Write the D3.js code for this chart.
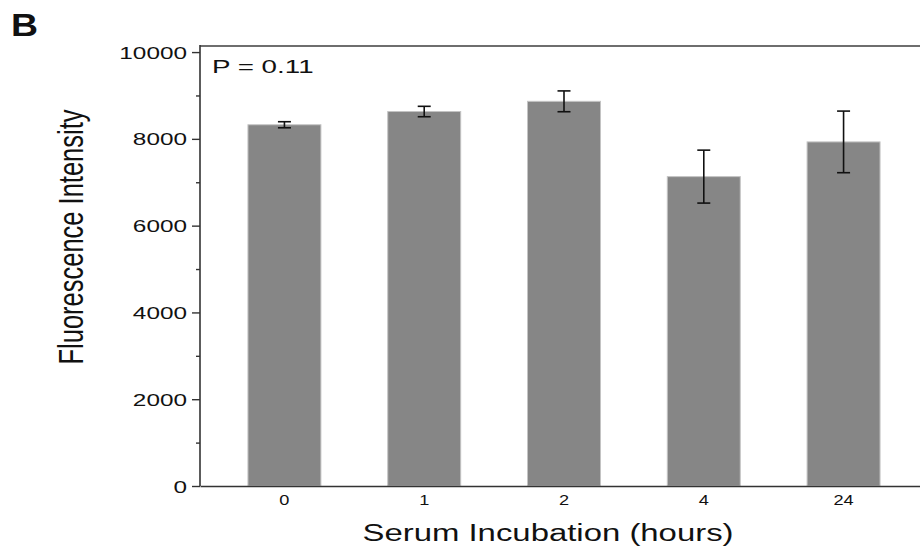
<!DOCTYPE html>
<html>
<head>
<meta charset="utf-8">
<script src="https://cdn.jsdelivr.net/npm/d3@7"></script>
<style>
	body { margin: 0; background: #fff; }
	svg { display: block; font-family: "Liberation Sans", Arial, sans-serif; }
</style>
</head>
<body>
<div id="chart"></div>
<script>
// data
var hours     = ['0', '1', '2', '4', '24'];
var means     = [8325, 8630, 8865, 7130, 7930];
var errors    = [70, 120, 240, 610, 710];
var yMajor    = [0, 2000, 4000, 6000, 8000, 10000];
var yMinor    = [1000, 3000, 5000, 7000, 9000];

var width = 920, height = 550;
// the figure is stretched sideways, so text is widened to match
var sx = 1.45;

var plot = {left: 200, right: 928, top: 46, bottom: 486};

var svg = d3.select('#chart').append('svg')
	.attr('width', width)
	.attr('height', height);

var x = d3.scaleBand()
	.domain(hours)
	.range([plot.left, plot.right])
	.paddingInner(0.478)
	.paddingOuter(0.343);

var y = d3.scaleLinear()
	.domain([0, 10140])
	.range([plot.bottom, plot.top]);

// top frame line
svg.append('line')
	.attr('x1', plot.left).attr('x2', plot.right)
	.attr('y1', plot.top).attr('y2', plot.top)
	.attr('stroke', '#6e6e6e')
	.attr('stroke-width', 2);

// bars
svg.append('g')
	.selectAll('rect')
	.data(means)
	.enter().append('rect')
	.attr('x', function(d, i) { return x(hours[i]); })
	.attr('y', function(d) { return y(d); })
	.attr('width', x.bandwidth())
	.attr('height', function(d) { return y(0) - y(d); })
	.attr('fill', '#868686')
	.attr('stroke', '#c4c4c4')
	.attr('stroke-width', 1);

// error bars
var err = svg.append('g')
	.attr('stroke', '#111')
	.attr('stroke-width', 1.6)
	.selectAll('g')
	.data(means)
	.enter().append('g')
	.attr('transform', function(d, i) { return 'translate(' + (x(hours[i]) + x.bandwidth() / 2) + ',0)'; });
err.append('line')
	.attr('y1', function(d, i) { return y(d + errors[i]); })
	.attr('y2', function(d, i) { return y(d - errors[i]); });
err.append('line')
	.attr('x1', -6.5).attr('x2', 6.5)
	.attr('y1', function(d, i) { return y(d + errors[i]); })
	.attr('y2', function(d, i) { return y(d + errors[i]); });
err.append('line')
	.attr('x1', -6.5).attr('x2', 6.5)
	.attr('y1', function(d, i) { return y(d - errors[i]); })
	.attr('y2', function(d, i) { return y(d - errors[i]); });

// y axis, major + minor ticks
var yAxis = svg.append('g')
	.attr('transform', 'translate(' + plot.left + ',0)')
	.call(d3.axisLeft(y).tickValues(yMajor).tickSize(8).tickSizeOuter(0).tickFormat(d3.format('d')));
yAxis.select('.domain').remove();
yAxis.selectAll('line').attr('stroke', '#333').attr('stroke-width', 1.4);
yAxis.selectAll('text')
	.attr('x', -13 / sx)
	.attr('dy', '0.36em')
	.attr('transform', 'scale(' + sx + ',1)')
	.attr('fill', '#111')
	.style('font-size', '16.8px');

var yMinorAxis = svg.append('g')
	.attr('transform', 'translate(' + plot.left + ',0)')
	.call(d3.axisLeft(y).tickValues(yMinor).tickSize(4).tickFormat(''));
yMinorAxis.select('.domain').remove();
yMinorAxis.selectAll('line').attr('stroke', '#333').attr('stroke-width', 1.4);

svg.append('line')
	.attr('x1', plot.left).attr('x2', plot.left)
	.attr('y1', plot.top - 1).attr('y2', plot.bottom)
	.attr('stroke', '#333')
	.attr('stroke-width', 1.6);

// x axis, labels only
var xAxis = svg.append('g')
	.attr('transform', 'translate(0,' + plot.bottom + ')')
	.call(d3.axisBottom(x).tickSize(0).tickSizeOuter(0));
xAxis.select('.domain')
	.attr('stroke', '#333')
	.attr('stroke-width', 1.6);
xAxis.selectAll('text')
	.attr('y', 0)
	.attr('dy', 0)
	.attr('transform', 'translate(0,19) scale(1.3,1)')
	.attr('fill', '#111')
	.style('font-size', '14px');

// titles
svg.append('text')
	.attr('transform', 'translate(548,541) scale(1.4,1)')
	.attr('text-anchor', 'middle')
	.attr('fill', '#111')
	.style('font-size', '23.5px')
	.text('Serum Incubation (hours)');

svg.append('text')
	.attr('transform', 'translate(83,237) rotate(-90) scale(1,1.35)')
	.attr('text-anchor', 'middle')
	.attr('fill', '#111')
	.style('font-size', '25.5px')
	.text('Fluorescence Intensity');

svg.append('text')
	.attr('transform', 'translate(212,73) scale(1.5,1)')
	.attr('fill', '#111')
	.style('font-size', '18.5px')
	.text('P = 0.11');

svg.append('text')
	.attr('transform', 'translate(11,36) scale(1.17,1)')
	.attr('fill', '#111')
	.style('font-size', '32px')
	.style('font-weight', 'bold')
	.text('B');
</script>
</body>
</html>
